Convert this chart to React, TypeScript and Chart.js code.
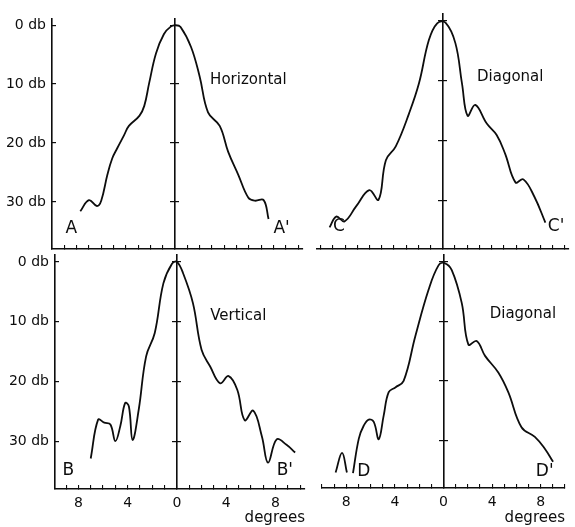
import React, { useEffect, useRef } from 'react';
import { Chart, registerables } from 'chart.js';

Chart.register(...registerables);

// ---------- data ----------
const dbTicks = [0, 10, 20, 30];
const degreeTicks = [-10, -9, -8, -7, -6, -5, -4, -3, -2, -1, 0, 1, 2, 3, 4, 5, 6, 7, 8, 9, 10];
const degreeLabels = [-8, -4, 0, 4, 8];

// Horizontal (A - A')
const horizontalAngle = [-7.7, -7.0, -6.35, -6.0, -5.5, -5.1, -4.7, -4.15, -3.75, -2.9, -2.5, -2.1, -1.55, -0.9, -0.35, 0.05, 0.45, 1.3, 2.0, 2.68, 3.63, 4.32, 5.14, 5.96, 6.5, 7.2, 7.6];
const horizontalDb = [31.6, 29.7, 30.7, 29.8, 25.4, 22.6, 20.9, 18.7, 17.1, 15.4, 13.7, 9.8, 4.8, 1.5, 0.25, 0.0, 0.3, 3.7, 8.7, 14.8, 17.1, 21.5, 25.4, 29.3, 29.8, 29.7, 32.9];

// Diagonal (C - C')
const diagonalCAngle = [-9.27, -8.72, -8.05, -7.1, -6.02, -5.26, -4.66, -3.85, -2.76, -1.95, -1.14, -0.46, 0.22, 1.03, 1.57, 2.03, 2.66, 3.6, 4.41, 5.1, 5.95, 6.6, 7.5, 8.4];
const diagonalCDb = [34.4, 32.6, 33.4, 30.9, 28.2, 29.8, 23.2, 20.9, 15.4, 10.4, 3.2, 0.4, 0.3, 3.7, 10.4, 15.8, 14.0, 17.1, 19.0, 22.1, 26.9, 26.4, 29.3, 33.6];

// Vertical (B - B')
const verticalAngle = [-7.0, -6.4, -5.9, -5.4, -5.0, -4.6, -4.2, -3.9, -3.6, -3.1, -2.5, -1.8, -1.1, -0.4, 0.0, 0.5, 1.3, 2.0, 2.7, 3.5, 4.2, 4.9, 5.5, 6.2, 6.9, 7.4, 8.1, 8.9, 9.6];
const verticalDb = [32.9, 26.4, 26.9, 27.2, 30.0, 27.5, 23.6, 24.2, 29.8, 24.7, 15.8, 11.9, 3.6, 0.3, 0.0, 1.9, 6.9, 14.7, 17.5, 20.3, 19.1, 21.4, 26.5, 24.9, 29.2, 33.6, 29.7, 30.6, 31.9];

// Diagonal (D - D')
const diagonalDSideAngle = [-8.88, -8.35, -7.95];
const diagonalDSideDb = [35.4, 32.1, 35.4];
const diagonalDAngle = [-7.45, -6.97, -6.56, -6.15, -5.74, -5.33, -4.92, -4.51, -3.96, -3.28, -2.32, -1.23, -0.41, 0.08, 0.68, 1.5, 2.05, 2.73, 3.42, 4.51, 5.33, 6.42, 7.52, 8.34, 9.02];
const diagonalDDb = [35.5, 29.7, 27.5, 26.5, 26.9, 29.8, 25.8, 21.9, 21.1, 20.0, 12.5, 4.7, 0.6, 0.2, 1.4, 6.9, 13.9, 13.3, 15.8, 18.6, 21.9, 27.8, 29.4, 31.4, 33.6];

// ---------- styling ----------
const INK = '#0d0d0d';
const FONT = '"DejaVu Sans", "Liberation Sans", sans-serif';
const W = 575;
const H = 527;

type Txt = { text: string; x: number; y: number; size: number };
type PanelCfg = {
  series: { xs: number[]; ys: number[] }[];
  texts: Txt[];
  pad: { left: number; top: number; right: number; bottom: number };
  xMin: number;
  xMax: number;
  yMin: number;
  yMax: number;
  showY: boolean;
  showX: boolean;
  yAxisWidth: number;
  xAxisHeight: number;
};

const panels: PanelCfg[] = [
  {
    series: [{ xs: horizontalAngle, ys: horizontalDb }],
    texts: [
      { text: 'Horizontal', x: 2.85, y: 9.3, size: 15 },
      { text: 'A', x: -8.9, y: 34.5, size: 17 },
      { text: "A'", x: 8.0, y: 34.5, size: 17 },
    ],
    pad: { left: 0, top: 14, right: 272, bottom: 268 },
    xMin: -10, xMax: 10.4, yMin: -1.15, yMax: 38,
    showY: true, showX: false, yAxisWidth: 52, xAxisHeight: 10,
  },
  {
    series: [{ xs: diagonalCAngle, ys: diagonalCDb }],
    texts: [
      { text: 'Diagonal', x: 2.8, y: 9.3, size: 15 },
      { text: 'C', x: -9.0, y: 34.2, size: 17 },
      { text: "C'", x: 8.6, y: 34.2, size: 17 },
    ],
    pad: { left: 317, top: 14, right: 5, bottom: 268 },
    xMin: -10.3, xMax: 10.3, yMin: -1.15, yMax: 38,
    showY: false, showX: false, yAxisWidth: 0, xAxisHeight: 10,
  },
  {
    series: [{ xs: verticalAngle, ys: verticalDb }],
    texts: [
      { text: 'Vertical', x: 2.7, y: 9.1, size: 15 },
      { text: 'B', x: -9.3, y: 35, size: 17 },
      { text: "B'", x: 8.1, y: 35, size: 17 },
    ],
    pad: { left: 3, top: 255, right: 270, bottom: 0 },
    xMin: -9.9, xMax: 10.4, yMin: -1.15, yMax: 38,
    showY: true, showX: true, yAxisWidth: 52, xAxisHeight: 38,
  },
  {
    series: [
      { xs: diagonalDSideAngle, ys: diagonalDSideDb },
      { xs: diagonalDAngle, ys: diagonalDDb },
    ],
    texts: [
      { text: 'Diagonal', x: 3.8, y: 8.8, size: 15 },
      { text: 'D', x: -7.1, y: 35.2, size: 17 },
      { text: "D'", x: 7.6, y: 35.2, size: 17 },
    ],
    pad: { left: 322, top: 255, right: 7, bottom: 0 },
    xMin: -10, xMax: 10, yMin: -1.15, yMax: 38,
    showY: false, showX: true, yAxisWidth: 0, xAxisHeight: 39,
  },
];

function Panel({ cfg }: { cfg: PanelCfg }) {
  const ref = useRef<HTMLCanvasElement>(null);

  useEffect(() => {
    if (!ref.current) return;
    const textPlugin = {
      id: 'panelText',
      afterDraw(chart: any) {
        const { ctx, scales } = chart;
        ctx.save();
        ctx.fillStyle = INK;
        ctx.textAlign = 'left';
        ctx.textBaseline = 'middle';
        cfg.texts.forEach((t) => {
          ctx.font = `${t.size}px ${FONT}`;
          ctx.fillText(t.text, scales.x.getPixelForValue(t.x), scales.y.getPixelForValue(t.y));
        });
        ctx.restore();
      },
    };

    const yTicksBuilder = (s: any) => {
      s.ticks = dbTicks.map((v) => ({ value: v }));
    };
    const centerAxis = (tickLength: number, border: boolean) => ({
      type: 'linear',
      position: { x: 0 },
      reverse: true,
      min: cfg.yMin,
      max: cfg.yMax,
      afterBuildTicks: yTicksBuilder,
      grid: { drawOnChartArea: false, drawTicks: true, tickLength, color: INK, lineWidth: 1.2 },
      border: { display: border, color: INK, width: 1.6 },
      ticks: { display: false, autoSkip: false },
    });

    const chart = new Chart(ref.current, {
      type: 'line',
      data: {
        datasets: cfg.series.map((s) => ({
          data: s.xs.map((x, i) => ({ x, y: s.ys[i] })),
          borderColor: INK,
          borderWidth: 1.8,
          pointRadius: 0,
          tension: 0.4,
          fill: false,
          xAxisID: 'x',
          yAxisID: 'y',
        })),
      },
      options: {
        responsive: false,
        animation: false,
        events: [],
        layout: { padding: cfg.pad },
        plugins: { legend: { display: false }, tooltip: { enabled: false }, title: { display: false } },
        scales: {
          x: {
            type: 'linear',
            position: 'bottom',
            min: cfg.xMin,
            max: cfg.xMax,
            afterBuildTicks: (s: any) => {
              s.ticks = degreeTicks
                .filter((v) => v >= cfg.xMin - 1e-6 && v <= cfg.xMax + 1e-6)
                .map((v) => ({ value: v }));
            },
            afterFit: (s: any) => {
              s.height = cfg.xAxisHeight;
            },
            grid: { drawOnChartArea: false, drawTicks: true, tickLength: -4, color: INK, lineWidth: 1.1 },
            border: { display: true, color: INK, width: 1.6 },
            ticks: {
              autoSkip: false,
              maxRotation: 0,
              padding: 10,
              color: INK,
              font: { family: FONT, size: 14 },
              callback: (v: any) => (cfg.showX && degreeLabels.includes(Number(v)) ? String(Math.abs(Number(v))) : ''),
            },
            title: {
              display: cfg.showX,
              text: 'degrees',
              align: 'end',
              padding: 0,
              color: INK,
              font: { family: FONT, size: 15 },
            },
          },
          y: {
            type: 'linear',
            position: 'left',
            display: cfg.showY,
            reverse: true,
            min: cfg.yMin,
            max: cfg.yMax,
            afterBuildTicks: yTicksBuilder,
            afterFit: (s: any) => {
              s.width = cfg.yAxisWidth;
            },
            grid: { drawOnChartArea: false, drawTicks: true, tickLength: -4, color: INK, lineWidth: 1.2 },
            border: { display: true, color: INK, width: 1.6 },
            ticks: {
              autoSkip: false,
              padding: 10,
              color: INK,
              font: { family: FONT, size: 14 },
              callback: (v: any) => `${v} db`,
            },
          },
          yc1: centerAxis(4, true),
          yc2: centerAxis(-4, false),
        } as any,
      },
      plugins: [textPlugin],
    } as any);

    return () => chart.destroy();
  }, [cfg]);

  return (
    <canvas
      ref={ref}
      width={W}
      height={H}
      style={{ position: 'absolute', left: 0, top: 0, width: W, height: H }}
    />
  );
}

export default function App() {
  return (
    <div style={{ position: 'absolute', left: 0, top: 0, width: W, height: H, background: '#fff' }}>
      {panels.map((p, i) => (
        <Panel key={i} cfg={p} />
      ))}
    </div>
  );
}
